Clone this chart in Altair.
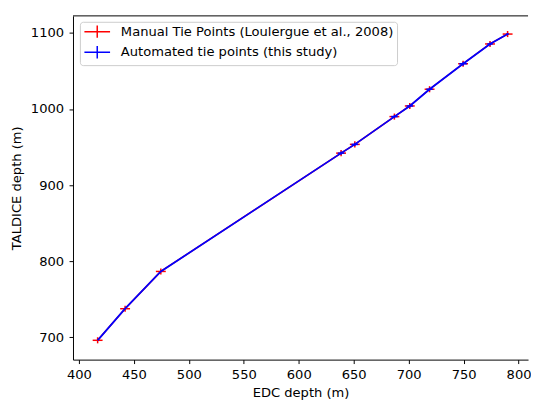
import altair as alt
import pandas as pd

# Tie points
edc_depth = [417, 442, 474.5, 638.5, 651, 687, 701, 719, 749.5, 774, 790]
taldice_depth = [696, 737.5, 786.5, 942, 953.5, 990, 1004, 1026, 1059.5, 1085.5, 1098.5]

manual_xerr = [4.5, 4.5, 4.5, 4.5, 4.5, 4.5, 4.5, 4.5, 4.5, 4.5, 4.5]
manual_yerr = [4, 4, 4, 4, 4, 4, 4, 4, 4, 4, 4]
auto_xerr = [0, 0, 0, 3, 3, 3, 3, 3, 3.5, 2.5, 1]
auto_yerr = [0, 0, 0, 2, 2, 2, 2, 2, 2.5, 2, 1]

S1 = "Manual Tie Points (Loulergue et al., 2008)"
S2 = "Automated tie points (this study)"
x_ticks = [400, 450, 500, 550, 600, 650, 700, 750, 800]
y_ticks = [700, 800, 900, 1000, 1100]

df_manual = pd.DataFrame({"edc": edc_depth, "tal": taldice_depth,
                          "xerr": manual_xerr, "yerr": manual_yerr, "series": S1})
df_auto = pd.DataFrame({"edc": edc_depth, "tal": taldice_depth,
                        "xerr": auto_xerr, "yerr": auto_yerr, "series": S2})

FONT = "DejaVu Sans"
FS = 13.3
xs = alt.Scale(domain=[394.6, 808.6], nice=False, zero=False)
ys = alt.Scale(domain=[670.6, 1122.4], nice=False, zero=False)

color = alt.Color(
    "series:N",
    scale=alt.Scale(domain=[S1, S2], range=["#ff0000", "#0000ff"]),
    legend=alt.Legend(
        title=None, orient="none", legendX=7, legendY=6,
        symbolType="M-2.17,0L2.17,0M0,-1.05L0,1.05", symbolSize=144,
        symbolStrokeWidth=1.5, symbolOffset=7.6,
        labelFont=FONT, labelFontSize=FS, labelColor="black", labelOffset=17,
        labelLimit=0, padding=3, rowPadding=1,
        strokeColor="#cccccc", fillColor="white", cornerRadius=3,
    ),
)

xaxis = alt.Axis(values=x_ticks, title="EDC depth (m)", grid=False, format="d",
                 labelFont=FONT, labelFontSize=FS, labelColor="black",
                 titleFont=FONT, titleFontSize=FS, titleColor="black", titleFontWeight="normal",
                 domainColor="black", tickColor="black", tickSize=4, labelPadding=4,
                 titlePadding=5, labelFlush=False)
yaxis = alt.Axis(values=y_ticks, title="TALDICE depth (m)", grid=False, format="d",
                 labelFont=FONT, labelFontSize=FS, labelColor="black",
                 titleFont=FONT, titleFontSize=FS, titleColor="black", titleFontWeight="normal",
                 domainColor="black", tickColor="black", tickSize=4, labelPadding=5.5,
                 titlePadding=7, labelFlush=False)


def series_layers(df, width):
    base = alt.Chart(df).transform_calculate(
        xlo="datum.edc - datum.xerr", xhi="datum.edc + datum.xerr",
        ylo="datum.tal - datum.yerr", yhi="datum.tal + datum.yerr",
    )
    line = base.mark_line(strokeWidth=width).encode(
        x=alt.X("edc:Q", scale=xs, axis=xaxis),
        y=alt.Y("tal:Q", scale=ys, axis=yaxis),
        color=color,
    )
    ex = base.mark_rule(strokeWidth=1.5).encode(
        x=alt.X("xlo:Q", scale=xs, axis=xaxis), x2="xhi:Q",
        y=alt.Y("tal:Q", scale=ys, axis=yaxis), color=color)
    ey = base.mark_rule(strokeWidth=1.5).encode(
        x=alt.X("edc:Q", scale=xs, axis=xaxis),
        y=alt.Y("ylo:Q", scale=ys, axis=yaxis), y2="yhi:Q", color=color)
    return [line, ex, ey]


top_spine = alt.Chart(pd.DataFrame({"k": [0]})).mark_rule(color="black", strokeWidth=1).encode(
    y=alt.value(0), x=alt.value(0), x2=alt.value(462))

chart = alt.layer(
    *series_layers(df_manual, 1.5),
    *series_layers(df_auto, 1.8),
    top_spine,
).properties(
    width=462, height=349,
    padding={"left": 66, "top": 5, "right": 3, "bottom": 38},
    autosize="none",
).configure_view(stroke=None)

chart.save("out.html", embed_options={"renderer": "svg", "actions": False})
